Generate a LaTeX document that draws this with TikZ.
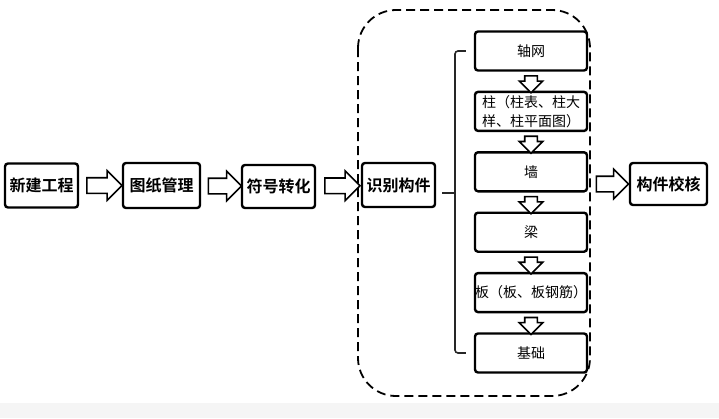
\documentclass[tikz,border=0pt]{standalone}
\usepackage{fontspec}
\newfontfamily\cjk[BoldFont={Noto Sans CJK SC Bold}]{Noto Sans CJK SC}
\usepackage{tikz}
\usetikzlibrary{arrows.meta,positioning,calc,shapes.arrows}
\tikzset{
	stepbox/.style={
		rectangle,
		draw=black,
		line width=2.4pt,
		rounded corners=3pt,
		fill=white,
		inner sep=0pt,
		align=center,
		font=\cjk\bfseries\fontsize{16}{19}\selectfont
	},
	partbox/.style={
		stepbox,
		minimum width=112pt,
		minimum height=39pt,
		font=\cjk\fontsize{14}{19}\selectfont
	},
	harrow/.style={
		single arrow,
		draw=black,
		fill=white,
		line width=1.6pt,
		inner sep=0pt,
		text width=0pt,
		text height=7pt,
		text depth=7pt,
		single arrow head extend=7pt,
		single arrow head indent=0pt
	},
	varrow/.style={
		harrow,
		rotate=-90,
		text height=5.5pt,
		text depth=5.5pt,
		single arrow head extend=5.5pt
	}
}

\begin{document}
\begin{tikzpicture}[x=1pt,y=-1pt]
	% canvas
	\fill[white] (0,0) rectangle (719,418);
	\fill[black!4] (0,403) rectangle (719,418);
	\useasboundingbox (0,0) rectangle (719,418);
	
	%--------------------
	% Dashed frame
	%--------------------
	\draw[line width=1.8pt, dash pattern=on 9pt off 5pt, rounded corners=38pt]
		(358,10) rectangle (590,396);
	
	%--------------------
	% Main steps
	%--------------------
	\node[stepbox, minimum width=73pt, minimum height=44pt] (new)     at (41.5,185.5) {新建工程};
	\node[stepbox, minimum width=77pt, minimum height=45pt] (drawing) at (161.5,185.5) {图纸管理};
	\node[stepbox, minimum width=73pt, minimum height=43pt] (symbol)  at (278.5,186.5) {符号转化};
	\node[stepbox, minimum width=73pt, minimum height=44pt] (recog)   at (398.5,185) {识别构件};
	\node[stepbox, minimum width=77pt, minimum height=42pt] (check)   at (668.5,184) {构件校核};
	
	%--------------------
	% Members
	%--------------------
	\node[partbox] (axis) at (531,51) {轴网};
	\node[partbox, below=19pt of axis]   (column) {柱（柱表、柱大\\样、柱平面图）};
	\node[partbox, below=19pt of column] (wall)   {墙};
	\node[partbox, below=19pt of wall]   (beam)   {梁};
	\node[partbox, below=19pt of beam]   (slab)   {板（板、板钢筋）};
	\node[partbox, below=19pt of slab]   (found)  {基础};
	
	%--------------------
	% Block arrows: main steps
	%--------------------
	\node[harrow, minimum height=35pt] (a1) at ($(new.east)!0.5!(drawing.west)$) {};
	\node[harrow, minimum height=33pt] (a2) at ($(drawing.east)!0.5!(symbol.west)$) {};
	\node[harrow, minimum height=35pt] (a3) at ($(symbol.east)!0.5!(recog.west)$) {};
	\node[harrow, minimum height=32pt] (a4) at ($(wall.east|-check)!0.5!(check.west)$) {};
	
	%--------------------
	% Block arrows: members
	%--------------------
	\foreach \from/\to in {axis/column, column/wall, wall/beam, beam/slab, slab/found}
		\node[varrow, minimum height=17pt] at ($(\from.south)!0.5!(\to.north)$) {};
	
	%--------------------
	% Bracket
	%--------------------
	\coordinate (brk) at (455,193);
	\coordinate (stub) at (recog.east|-brk);
	\draw[line width=1.6pt, black!85] ([xshift=6pt]stub) -- (brk);
	\draw[line width=1.6pt, black!85, rounded corners=3pt]
		([xshift=-8pt]axis.west) -| (brk) |- ([xshift=-8pt]found.west);
	
\end{tikzpicture}
\end{document}
